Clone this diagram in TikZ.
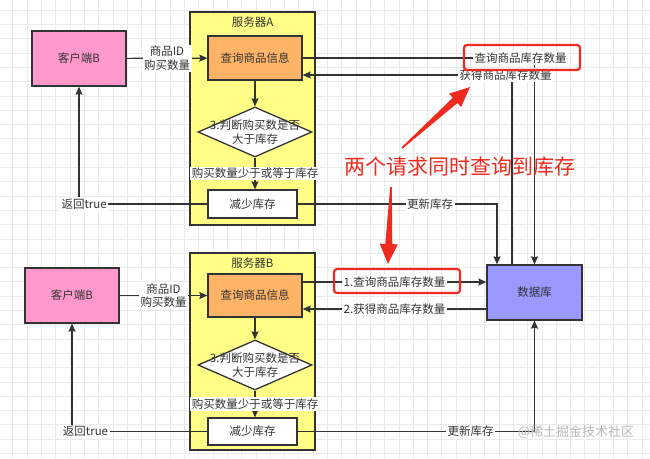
\documentclass[tikz,border=0pt]{standalone}
\usepackage{fontspec}
\setmainfont{Noto Sans CJK SC}
\usetikzlibrary{arrows.meta,shapes.geometric,calc,positioning}

\definecolor{linegray}{HTML}{333333}
\definecolor{clientpink}{HTML}{FF99CC}
\definecolor{queryorange}{HTML}{FFB366}
\definecolor{serveryellow}{HTML}{FFFF88}
\definecolor{dbblue}{HTML}{9999FF}
\definecolor{annored}{HTML}{F02A1E}
\definecolor{gridgray}{HTML}{EAEAEA}

\tikzset{
  box/.style={draw=linegray, line width=1.3pt, minimum width=94pt, minimum height=44pt, inner sep=1pt},
  client/.style={box, fill=clientpink, minimum height=55pt},
  query/.style={box, fill=queryorange},
  reduce/.style={box, fill=white, minimum width=89pt, minimum height=28pt},
  server/.style={draw=linegray, line width=1.5pt, fill=serveryellow, minimum width=125pt},
  dbbox/.style={box, fill=dbblue, minimum width=95pt, minimum height=55pt},
  decide/.style={diamond, draw=linegray, line width=1.3pt, fill=white, minimum width=114pt, minimum height=50pt, inner sep=0pt},
  lbl/.style={fill=white, inner sep=1.5pt, align=center},
  redbox/.style={draw=annored, line width=2.2pt, rounded corners=3pt, minimum width=116pt, minimum height=25pt},
  flow/.style={draw=linegray, line width=1.2pt},
}

% tapered red pointer
\newcommand{\redarrow}[2]{%
  \coordinate (ra-b) at ($(#2)!20pt!(#1)$);
  \fill[annored] ($(#1)!0.8pt!90:(#2)$) -- ($(ra-b)!3.5pt!90:(#2)$) -- ($(ra-b)!9pt!90:(#2)$) -- (#2)
    -- ($(ra-b)!9pt!-90:(#2)$) -- ($(ra-b)!3.5pt!-90:(#2)$) -- ($(#1)!0.8pt!-90:(#2)$) -- cycle;}

\begin{document}
\begin{tikzpicture}[x=1pt,y=-1pt,>={Stealth[length=8pt,width=7pt,inset=1pt]},font=\fontsize{11.5}{13.5}\selectfont,text=linegray]

% background grid
\useasboundingbox[fill=white] (0,0) rectangle (650,458);
\foreach \g in {0,...,44}
  \draw[gridgray,line width=0.6pt] ({12.7+14.3*\g},0) -- ({12.7+14.3*\g},458);
\foreach \g in {0,...,31}
  \draw[gridgray,line width=0.6pt] (0,{10+14.3*\g}) -- (650,{10+14.3*\g});

% upper request
\node[server, minimum height=213pt] (srvA) at (252.5,118.5) {};
\node (srvAtxt) [below=2pt of srvA.north] {服务器A};
\node[client] (cliA) at (79,58.5) {客户端B};
\node[query] (qryA) at (255,58) {查询商品信息};
\node[decide] (decA) at (255,132) {};
\node[align=center] (decAtxt) at (decA) {3.判断购买数是否\\大于库存};
\node[reduce] (rdA) at (252.5,204) {减少库存};

% database
\node[dbbox] (db) at (534.5,292.5) {数据库};

\draw[flow,->] (cliA) -- node[lbl] {商品ID\\购买数量} (qryA);
\draw[flow,->] (qryA) -- (decA);
\draw[flow,->] (decA.south) -- node[lbl] {购买数量少于或等于库存} (decA.south |- rdA.north);
\draw[flow,->] (rdA.west) -- node[lbl,pos=0.96] {返回true} (cliA |- rdA.west) -- (cliA.south);
\draw[flow,->] (rdA.east) -- node[lbl,pos=0.665] {更新库存} ([xshift=-37.5pt]db.north |- rdA.east) -- ([xshift=-37.5pt]db.north);
\draw[flow,->] (qryA.east) -- node[lbl,pos=0.94] (askA) {查询商品库存数量} (db.north |- qryA.east) -- (db.north);
\draw[flow,->] ([xshift=-22.5pt]db.north) -- ([xshift=-22.5pt,yshift=-17pt]db.north |- qryA.east)
  -- node[lbl,pos=0.03] {获得商品库存数量} ([yshift=-17pt]qryA.east);
\node[redbox] (hiA) at (522,57.5) {};

% lower request
\node[server, minimum height=197pt] (srvB) at (252.5,351.5) {};
\node (srvBtxt) [below=2pt of srvB.north] {服务器B};
\node[client] (cliB) at (72,295.5) {客户端B};
\node[query, minimum height=43pt] (qryB) at (255,295.5) {查询商品信息};
\node[decide] (decB) at (255,365) {};
\node[align=center] (decBtxt) at (decB) {3.判断购买数是否\\大于库存};
\node[reduce, minimum height=27pt] (rdB) at (252.5,431.5) {减少库存};

\coordinate (qB1) at ([yshift=13.5pt]qryB.east);
\coordinate (qB2) at ([yshift=-13.5pt]qryB.east);
\draw[flow,->] (cliB) -- node[lbl] {商品ID\\购买数量} (qryB);
\draw[flow,->] (qryB) -- (decB);
\draw[flow,->] (decB.south) -- node[lbl] {购买数量少于或等于库存} (decB.south |- rdB.north);
\draw[flow,->] (rdB.west) -- node[lbl,pos=0.9] {返回true} (cliB |- rdB.west) -- (cliB.south);
\draw[flow,->] (rdB.east) -- node[lbl,pos=0.73] {更新库存} (db.south |- rdB.east) -- (db.south);
\draw[flow,->] (qB1) -- node[lbl] {1.查询商品库存数量} (db.west |- qB1);
\draw[flow,->] (db.west |- qB2) -- node[lbl] {2.获得商品库存数量} (qB2);
\node[redbox, minimum width=126pt, minimum height=24pt] (hiB) at (397,281) {};

% annotation
\node[text=annored, font=\fontsize{21}{24}\selectfont] (note) at (460,167) {两个请求同时查询到库存};
\coordinate (noteA) at (402,148);
\coordinate (tipA) at (470,87);
\coordinate (noteB) at (391,187);
\coordinate (tipB) at (388,264);
\redarrow{noteA}{tipA}
\redarrow{noteB}{tipB}

\node[text=gray!55, font=\fontsize{13}{15}\selectfont] (mark) at (576,432) {@稀土掘金技术社区};

\end{tikzpicture}
\end{document}
